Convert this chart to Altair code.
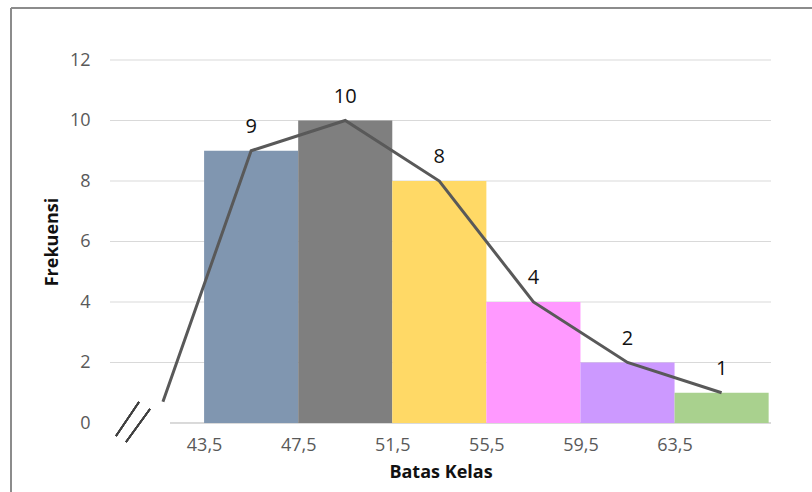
import altair as alt
import pandas as pd

# Class boundaries, class midpoints and frequencies
batas_bawah = [43.5, 47.5, 51.5, 55.5, 59.5, 63.5]
batas_atas = [47.5, 51.5, 55.5, 59.5, 63.5, 67.5]
titik_tengah = [45.5, 49.5, 53.5, 57.5, 61.5, 65.5]
frekuensi = [9, 10, 8, 4, 2, 1]
warna = ["#8096B0", "#7F7F7F", "#FFD966", "#FF99FF", "#CC99FF", "#A9D18E"]

# Frequency polygon: leading point near the broken axis, then the class midpoints
poligon_x = [41.75] + titik_tengah
poligon_y = [0.7] + frekuensi

grid_y = [2, 4, 6, 8, 10, 12]

W, H = 661, 363
FONT = "Open Sans"

bars_df = pd.DataFrame({
    "bawah": batas_bawah,
    "atas": batas_atas,
    "frek": frekuensi,
    "kelas": [str(i) for i in range(len(frekuensi))],
})
line_df = pd.DataFrame({"x": poligon_x, "y": poligon_y, "urut": list(range(len(poligon_x)))})
label_df = pd.DataFrame({"x": titik_tengah, "y": frekuensi})
grid_df = pd.DataFrame({"v": grid_y})

x_scale = alt.Scale(domain=[39.5, 67.6], nice=False, zero=False)
y_scale = alt.Scale(domain=[0, 12], nice=False)

x_axis = alt.Axis(
    values=batas_bawah,
    labelExpr="replace(format(datum.value, '.1f'), '.', ',')",
    title="Batas Kelas",
    grid=False, domain=False, ticks=False,
    labelPadding=13, titlePadding=9,
)
y_axis = alt.Axis(
    values=[0] + grid_y,
    title="Frekuensi",
    grid=False, domain=False, ticks=False,
    labelPadding=20, titlePadding=8,
)

grid = alt.Chart(grid_df).mark_rule(color="#D9D9D9", strokeWidth=1).encode(
    y=alt.Y("v:Q", scale=y_scale, axis=y_axis),
    x=alt.value(0), x2=alt.value(W),
)
zero_line = alt.Chart(grid_df).mark_rule(color="#D9D9D9", strokeWidth=1).encode(
    y=alt.Y(datum=0, scale=y_scale, axis=y_axis),
    x=alt.value(60), x2=alt.value(W),
)

bars = alt.Chart(bars_df).mark_rect(strokeWidth=0).encode(
    x=alt.X("bawah:Q", scale=x_scale, axis=x_axis),
    x2="atas:Q",
    y=alt.Y("frek:Q", scale=y_scale, axis=y_axis),
    y2=alt.Y2(datum=0),
    color=alt.Color("kelas:N", scale=alt.Scale(domain=bars_df["kelas"].tolist(), range=warna), legend=None),
)

poligon = alt.Chart(line_df).mark_line(color="#595959", strokeWidth=3).encode(
    x=alt.X("x:Q", scale=x_scale, axis=x_axis),
    y=alt.Y("y:Q", scale=y_scale, axis=y_axis),
    order="urut:Q",
)

labels = alt.Chart(label_df).mark_text(
    dy=-24, fontSize=20, color="#111111", font=FONT
).encode(
    x=alt.X("x:Q", scale=x_scale, axis=x_axis),
    y=alt.Y("y:Q", scale=y_scale, axis=y_axis),
    text=alt.Text("y:Q"),
)

# Axis-break strokes beside the origin
brk1 = alt.Chart(grid_df).mark_rule(color="#404040", strokeWidth=1.5).encode(
    x=alt.value(6), y=alt.value(376), x2=alt.value(29), y2=alt.value(342))
brk2 = alt.Chart(grid_df).mark_rule(color="#404040", strokeWidth=1.5).encode(
    x=alt.value(16), y=alt.value(382), x2=alt.value(40), y2=alt.value(349))

# Outer frame (top and left edges)
frame_top = alt.Chart(grid_df).mark_rule(color="#8C8C8C", strokeWidth=1.5).encode(
    x=alt.value(-99), x2=alt.value(720), y=alt.value(-52))
frame_left = alt.Chart(grid_df).mark_rule(color="#8C8C8C", strokeWidth=1.5).encode(
    x=alt.value(-99), y=alt.value(-52), y2=alt.value(440))

chart = alt.layer(
    grid, zero_line, bars, poligon, labels, brk1, brk2, frame_top, frame_left
).properties(
    width=W, height=H,
    autosize=alt.AutoSizeParams(type="none"),
    padding={"left": 110, "top": 60, "right": 41, "bottom": 69},
    background="white",
).configure_view(
    strokeWidth=0
).configure_axis(
    labelFont=FONT, labelFontSize=18, labelColor="#595959",
    titleFont=FONT, titleFontSize=18, titleFontWeight="bold", titleColor="#111111",
)

chart.save("out.html", embed_options={"renderer": "svg", "actions": False})
